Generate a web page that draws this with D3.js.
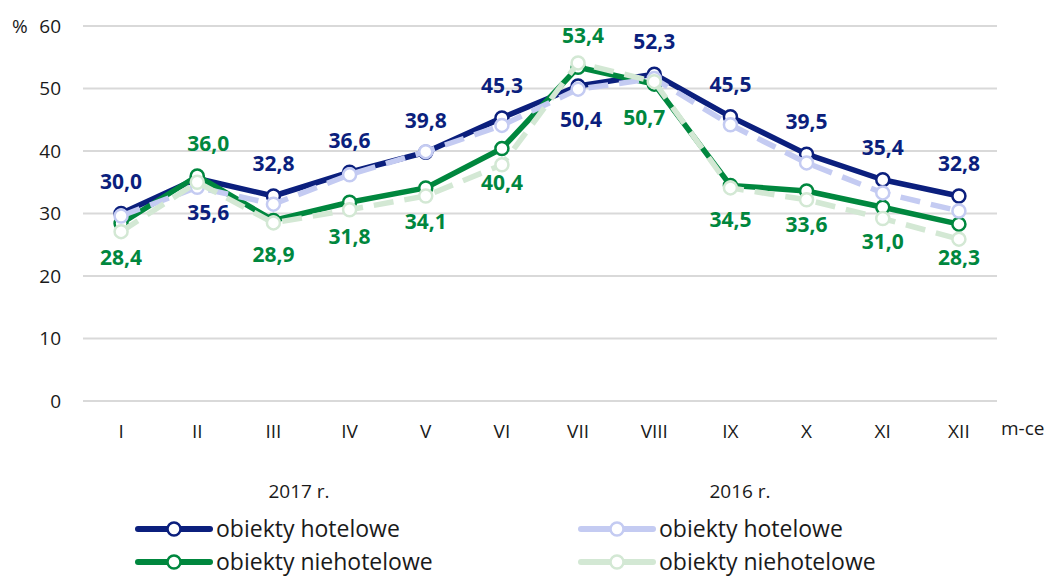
<!DOCTYPE html>
<html><head><meta charset="utf-8">
<script src="https://cdn.jsdelivr.net/npm/d3@7"></script>
<style>
body{margin:0;background:#fff;}
text{font-family:"Open Sans","Noto Sans",sans-serif;}
</style></head>
<body><svg id="c" width="1048" height="578"></svg>
<script>
const months = ["I","II","III","IV","V","VI","VII","VIII","IX","X","XI","XII"];
const hotel2017 = [30.0,35.6,32.8,36.6,39.8,45.3,50.4,52.3,45.5,39.5,35.4,32.8];
const nonhotel2017 = [28.4,36.0,28.9,31.8,34.1,40.4,53.4,50.7,34.5,33.6,31.0,28.3];
const hotel2016 = [29.6,34.2,31.5,36.2,39.9,44.1,49.9,51.6,44.2,38.1,33.3,30.4];
const nonhotel2016 = [27.1,35.0,28.5,30.6,32.8,37.8,54.1,51.1,34.1,32.2,29.2,25.9];
const yTicks = [0,10,20,30,40,50,60];
// label placement: +1 above, -1 below
const hotelLabelPos = [1,-1,1,1,1,1,-1,1,1,1,1,1];
const nonhotelLabelPos = [-1,1,-1,-1,-1,-1,1,-1,-1,-1,-1,-1];
const hotelLabelDx = [0,11,0,0,0,0,3,0,0,0,0,0];
const nonhotelLabelDx = [0,11,0,0,0,0,5,-10,0,0,0,0];

const C = {navy:"#0b1f7d", green:"#00873e", lblue:"#c4cbf2", lgreen:"#d3e8d4", grid:"#d9d9d9", text:"#1a1a1a"};

const svg = d3.select("#c");
const x = d3.scaleBand().domain(months).range([83,997]).padding(0);
const y = d3.scaleLinear().domain([0,60]).range([401,26]);
const cx = m => x(m) + x.bandwidth()/2;

// grid
svg.append("g").selectAll("line").data(yTicks).join("line")
  .attr("x1",83).attr("x2",997).attr("y1",d=>y(d)).attr("y2",d=>y(d))
  .attr("stroke",C.grid).attr("stroke-width",2);

// y axis labels
svg.append("g").selectAll("text").data(yTicks).join("text")
  .attr("x",61).attr("y",d=>y(d)).attr("dy","0.35em").attr("text-anchor","end")
  .attr("font-size",19).attr("fill",C.text).text(d=>d);
svg.append("text").attr("x",12).attr("y",y(60)).attr("dy","0.35em").attr("font-size",19).attr("fill",C.text).text("%");

// x axis labels
svg.append("g").selectAll("text").data(months).join("text")
  .attr("x",d=>cx(d)).attr("y",431).attr("dy","0.35em").attr("text-anchor","middle")
  .attr("font-size",19).attr("fill",C.text).text(d=>d);
svg.append("text").attr("x",1001).attr("y",428).attr("dy","0.35em").attr("font-size",19).attr("fill",C.text).text("m-ce");

const line = d3.line().x((d,i)=>cx(months[i])).y(d=>y(d));

function series(vals, color, dashed){
  const g = svg.append("g");
  g.append("path").datum(vals).attr("d",line).attr("fill","none")
    .attr("stroke",color).attr("stroke-width",5.5).attr("stroke-linejoin","round")
    .attr("stroke-dasharray", dashed ? "20,11" : null);
  g.selectAll("circle").data(vals).join("circle")
    .attr("cx",(d,i)=>cx(months[i])).attr("cy",d=>y(d)).attr("r",6.5)
    .attr("fill","#fff").attr("stroke",color).attr("stroke-width",2.5);
}
series(hotel2017, C.navy, false);
series(nonhotel2017, C.green, false);
series(hotel2016, C.lblue, true);
series(nonhotel2016, C.lgreen, true);

const fmt = v => v.toFixed(1).replace(".",",");
function labels(vals,pos,dx,color){
  svg.append("g").selectAll("text").data(vals).join("text")
    .attr("x",(d,i)=>cx(months[i])+dx[i])
    .attr("y",(d,i)=> y(d) + (pos[i]>0 ? -32 : 34))
    .attr("dy","0.35em").attr("text-anchor","middle")
    .attr("font-size",21).attr("font-weight","bold").attr("fill",color)
    .text(d=>fmt(d));
}
labels(hotel2017, hotelLabelPos, hotelLabelDx, C.navy);
labels(nonhotel2017, nonhotelLabelPos, nonhotelLabelDx, C.green);

// legend
const legendGroups = [
  {title:"2017 r.", tx:299, x0:138, items:[{label:"obiekty hotelowe",color:C.navy},{label:"obiekty niehotelowe",color:C.green}]},
  {title:"2016 r.", tx:740, x0:581, items:[{label:"obiekty hotelowe",color:C.lblue},{label:"obiekty niehotelowe",color:C.lgreen}]}
];
legendGroups.forEach(gp=>{
  svg.append("text").attr("x",gp.tx).attr("y",491).attr("dy","0.35em").attr("text-anchor","middle")
    .attr("font-size",19).attr("fill",C.text).text(gp.title);
  gp.items.forEach((it,k)=>{
    const yy = 529 + k*33;
    svg.append("line").attr("x1",gp.x0).attr("x2",gp.x0+72).attr("y1",yy).attr("y2",yy)
      .attr("stroke",it.color).attr("stroke-width",6).attr("stroke-linecap","round");
    svg.append("circle").attr("cx",gp.x0+36).attr("cy",yy).attr("r",6.5)
      .attr("fill","#fff").attr("stroke",it.color).attr("stroke-width",2.5);
    svg.append("text").attr("x",gp.x0+78).attr("y",yy).attr("dy","0.33em")
      .attr("font-size",23).attr("fill",C.text).text(it.label);
  });
});
</script></body></html>
